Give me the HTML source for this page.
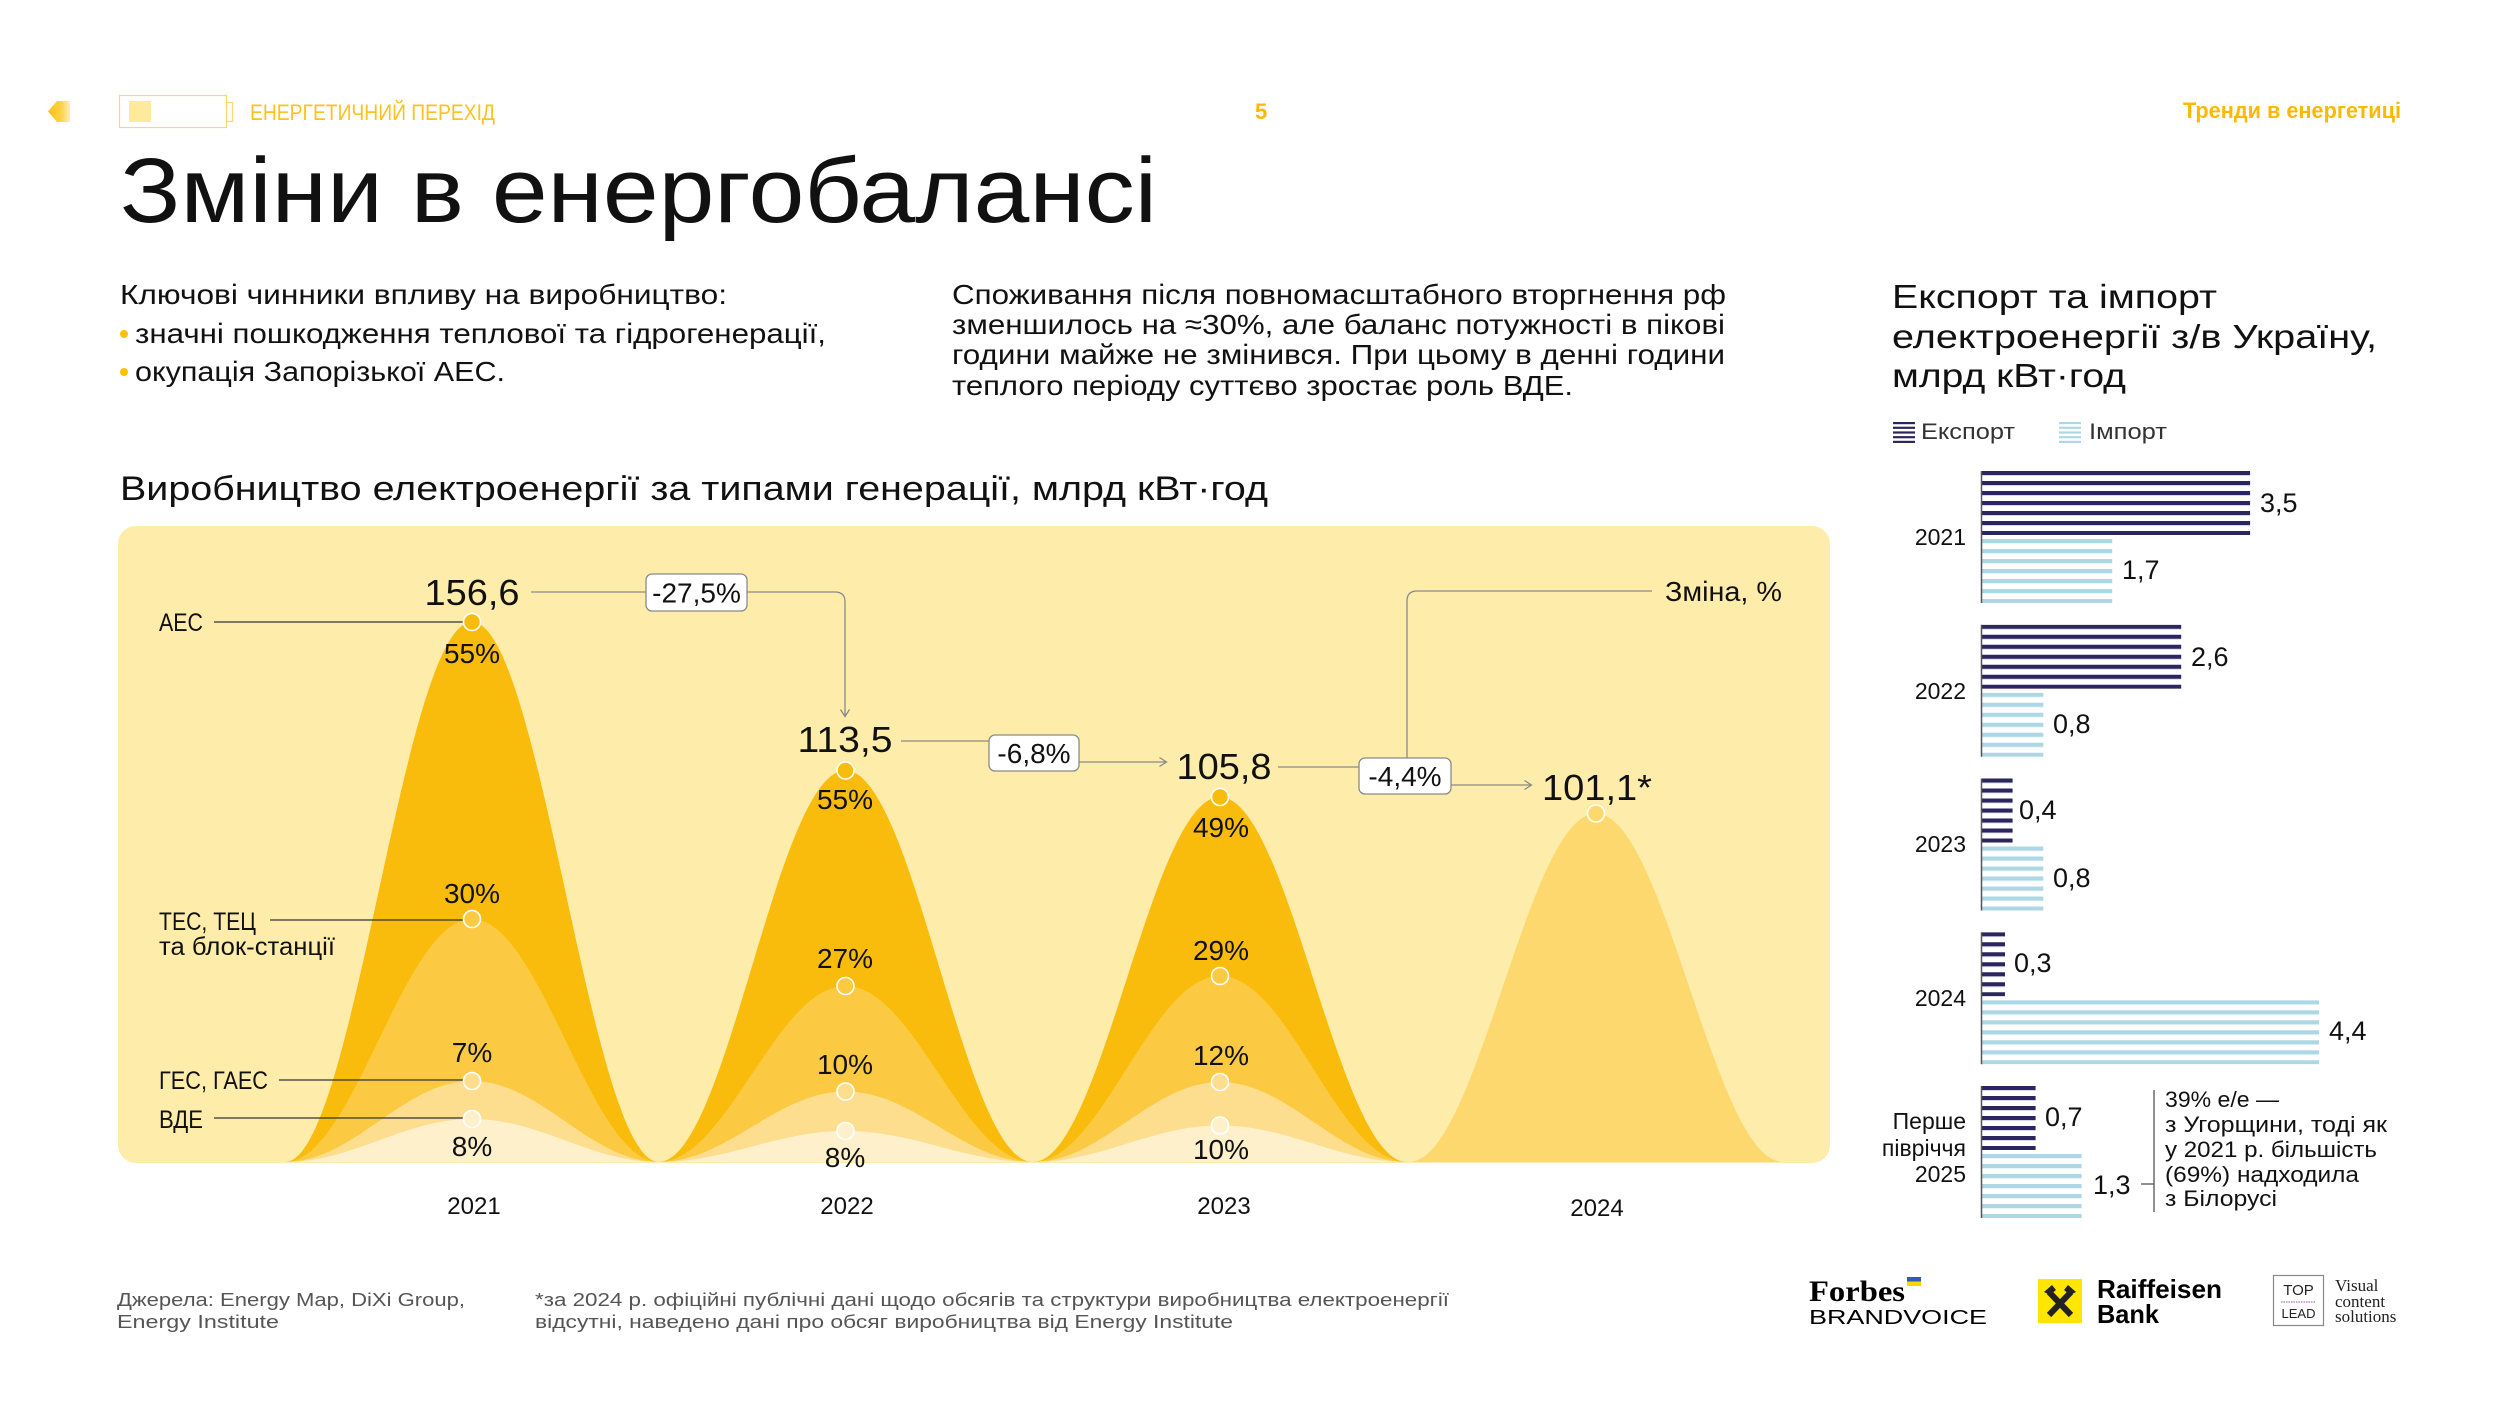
<!DOCTYPE html>
<html><head><meta charset="utf-8"><style>
html,body{margin:0;padding:0;background:#fff;}
svg{display:block;}
text{font-family:"Liberation Sans","DejaVu Sans",sans-serif;fill:#111;}
</style></head><body>
<svg width="2520" height="1418" viewBox="0 0 2520 1418" xmlns="http://www.w3.org/2000/svg">
<defs>
<linearGradient id="ag" x1="0" x2="1" y1="0" y2="0"><stop offset="0" stop-color="#FFC107"/><stop offset="0.6" stop-color="#FFD24D"/><stop offset="1" stop-color="#FFF0B0"/></linearGradient>
<pattern id="pe" width="10" height="10" patternUnits="userSpaceOnUse"><rect width="10" height="4" fill="#2B2660"/><rect y="4" width="10" height="0.8" fill="#CFCDE0"/></pattern>
<pattern id="pi" width="10" height="10" patternUnits="userSpaceOnUse"><rect width="10" height="4" fill="#AED7E6"/><rect y="4" width="10" height="0.8" fill="#E3F1F7"/></pattern>
</defs>

<!-- header -->
<polygon points="48,111.5 57,101 70,101 70,122 57,122" fill="url(#ag)"/>
<rect x="119.5" y="95.5" width="107" height="32" fill="none" stroke="#FDD76A" stroke-width="1.2"/>
<rect x="226.5" y="102.5" width="6" height="19" fill="none" stroke="#FDD76A" stroke-width="1.2"/>
<rect x="129" y="101" width="22" height="21" fill="#FEEA9A"/>
<text x="250" y="120" font-size="22" fill="#FDC21E" style="fill:#FDC21E" textLength="245" lengthAdjust="spacingAndGlyphs">ЕНЕРГЕТИЧНИЙ ПЕРЕХІД</text>
<text x="1255" y="119" font-size="22" font-weight="bold" style="fill:#FFB800">5</text>
<text x="2183" y="118" font-size="22" font-weight="bold" style="fill:#FFB800" textLength="218" lengthAdjust="spacingAndGlyphs">Тренди в енергетиці</text>

<!-- title -->
<text x="120" y="222" font-size="92" textLength="1037" lengthAdjust="spacingAndGlyphs">Зміни в енергобалансі</text>

<!-- intro text -->
<text x="120" y="304" font-size="28" textLength="607" lengthAdjust="spacingAndGlyphs">Ключові чинники впливу на виробництво:</text>
<circle cx="124" cy="334" r="4" fill="#FFC107"/>
<text x="135" y="343" font-size="28" textLength="691" lengthAdjust="spacingAndGlyphs">значні пошкодження теплової та гідрогенерації,</text>
<circle cx="124" cy="372" r="4" fill="#FFC107"/>
<text x="135" y="381" font-size="28" textLength="370" lengthAdjust="spacingAndGlyphs">окупація Запорізької АЕС.</text>

<text x="952" y="304" font-size="28" textLength="774" lengthAdjust="spacingAndGlyphs">Споживання після повномасштабного вторгнення рф</text>
<text x="952" y="334" font-size="28" textLength="773" lengthAdjust="spacingAndGlyphs">зменшилось на ≈30%, але баланс потужності в пікові</text>
<text x="952" y="364" font-size="28" textLength="773" lengthAdjust="spacingAndGlyphs">години майже не змінився. При цьому в денні години</text>
<text x="952" y="395" font-size="28" textLength="621" lengthAdjust="spacingAndGlyphs">теплого періоду суттєво зростає роль ВДЕ.</text>

<text x="120" y="500" font-size="34" textLength="1148" lengthAdjust="spacingAndGlyphs">Виробництво електроенергії за типами генерації, млрд кВт·год</text>

<!-- main chart panel -->
<rect x="118" y="526" width="1712" height="637" rx="18" fill="#FEECAA"/>

<!-- 2021 -->
<path d="M285,1162 C354.2,1162 402.8,622 472,622 C541.2,622 589.8,1162 659,1162 Z" fill="#F9BC0C"/>
<path d="M285,1162 C354.2,1162 402.8,919 472,919 C541.2,919 589.8,1162 659,1162 Z" fill="#FCCA42"/>
<path d="M285,1162 C354.2,1162 402.8,1081 472,1081 C541.2,1081 589.8,1162 659,1162 Z" fill="#FDDE8E"/>
<path d="M285,1162 C354.2,1162 402.8,1119 472,1119 C541.2,1119 589.8,1162 659,1162 Z" fill="#FEF0CB"/>
<!-- 2022 -->
<path d="M658.5,1162 C727.7,1162 776.3,770.5 845.5,770.5 C914.7,770.5 963.3,1162 1032.5,1162 Z" fill="#F9BC0C"/>
<path d="M658.5,1162 C727.7,1162 776.3,986 845.5,986 C914.7,986 963.3,1162 1032.5,1162 Z" fill="#FCCA42"/>
<path d="M658.5,1162 C727.7,1162 776.3,1091.5 845.5,1091.5 C914.7,1091.5 963.3,1162 1032.5,1162 Z" fill="#FDDE8E"/>
<path d="M658.5,1162 C727.7,1162 776.3,1131 845.5,1131 C914.7,1131 963.3,1162 1032.5,1162 Z" fill="#FEF0CB"/>
<!-- 2023 -->
<path d="M1033,1162 C1102.2,1162 1150.8,797 1220,797 C1289.2,797 1337.8,1162 1407,1162 Z" fill="#F9BC0C"/>
<path d="M1033,1162 C1102.2,1162 1150.8,976 1220,976 C1289.2,976 1337.8,1162 1407,1162 Z" fill="#FCCA42"/>
<path d="M1033,1162 C1102.2,1162 1150.8,1082 1220,1082 C1289.2,1082 1337.8,1162 1407,1162 Z" fill="#FDDE8E"/>
<path d="M1033,1162 C1102.2,1162 1150.8,1125.5 1220,1125.5 C1289.2,1125.5 1337.8,1162 1407,1162 Z" fill="#FEF0CB"/>
<!-- 2024 -->
<path d="M1409,1162 C1478.2,1162 1526.8,813.5 1596,813.5 C1665.2,813.5 1713.8,1162 1783,1162 Z" fill="#FCD86F"/>

<!-- left labels & leaders -->
<g stroke="#333" stroke-width="1.3">
<line x1="214" y1="622" x2="463" y2="622"/>
<line x1="270" y1="920" x2="463" y2="920"/>
<line x1="279" y1="1080" x2="463" y2="1080"/>
<line x1="214" y1="1118" x2="463" y2="1118"/>
</g>
<text x="159" y="631" font-size="25" textLength="44" lengthAdjust="spacingAndGlyphs">АЕС</text>
<text x="159" y="930" font-size="25" textLength="97" lengthAdjust="spacingAndGlyphs">ТЕС, ТЕЦ</text>
<text x="159" y="955" font-size="25" textLength="176" lengthAdjust="spacingAndGlyphs">та блок-станції</text>
<text x="159" y="1089" font-size="25" textLength="109" lengthAdjust="spacingAndGlyphs">ГЕС, ГАЕС</text>
<text x="159" y="1128" font-size="25" textLength="44" lengthAdjust="spacingAndGlyphs">ВДЕ</text>

<!-- circles -->
<g stroke="#fff" stroke-width="1.6">
<circle cx="472" cy="622" r="8.5" fill="#F9BC0C"/>
<circle cx="472" cy="919" r="8.5" fill="#FCCA42"/>
<circle cx="472" cy="1081" r="8.5" fill="#FDDE8E"/>
<circle cx="472" cy="1119" r="8.5" fill="#FEF0CB"/>
<circle cx="845.5" cy="770.5" r="8.5" fill="#F9BC0C"/>
<circle cx="845.5" cy="986" r="8.5" fill="#FCCA42"/>
<circle cx="845.5" cy="1091.5" r="8.5" fill="#FDDE8E"/>
<circle cx="845.5" cy="1131" r="8.5" fill="#FEF0CB"/>
<circle cx="1220" cy="797" r="8.5" fill="#F9BC0C"/>
<circle cx="1220" cy="976" r="8.5" fill="#FCCA42"/>
<circle cx="1220" cy="1082" r="8.5" fill="#FDDE8E"/>
<circle cx="1220" cy="1125.5" r="8.5" fill="#FEF0CB"/>
<circle cx="1596" cy="813.5" r="8.5" fill="#FCD86F"/>
</g>

<!-- percent labels -->
<g font-size="28" text-anchor="middle">
<text x="472" y="663">55%</text>
<text x="472" y="903">30%</text>
<text x="472" y="1062">7%</text>
<text x="472" y="1156">8%</text>
<text x="845" y="809">55%</text>
<text x="845" y="968">27%</text>
<text x="845" y="1074">10%</text>
<text x="845" y="1167">8%</text>
<text x="1221" y="837">49%</text>
<text x="1221" y="960">29%</text>
<text x="1221" y="1065">12%</text>
<text x="1221" y="1159">10%</text>
</g>

<!-- totals -->
<g font-size="36" text-anchor="middle">
<text x="472" y="605" textLength="95" lengthAdjust="spacingAndGlyphs">156,6</text>
<text x="845" y="752" textLength="95" lengthAdjust="spacingAndGlyphs">113,5</text>
<text x="1224" y="779" textLength="95" lengthAdjust="spacingAndGlyphs">105,8</text>
<text x="1597" y="800" textLength="110" lengthAdjust="spacingAndGlyphs">101,1*</text>
</g>

<!-- connectors -->
<g stroke="#8a8a8a" stroke-width="1.3" fill="none">
<path d="M531,592 H646"/>
<path d="M747,592 H835 Q845,592 845,602 V716"/>
<path d="M840.5,709.5 L845,716.5 L849.5,709.5"/>
<path d="M901,741 H989"/>
<path d="M1079,762 H1166"/>
<path d="M1159.5,757.5 L1166.5,762 L1159.5,766.5"/>
<path d="M1278,767 H1359"/>
<path d="M1407,758 V601 Q1407,591 1417,591 H1652"/>
<path d="M1451,785 H1531"/>
<path d="M1524.5,780.5 L1531.5,785 L1524.5,789.5"/>
</g>
<g fill="#fff" stroke="#8a8a8a" stroke-width="1.3">
<rect x="646" y="574" width="101" height="37" rx="6"/>
<rect x="989" y="735" width="90" height="36" rx="6"/>
<rect x="1359" y="758" width="92" height="36" rx="6"/>
</g>
<g font-size="28" text-anchor="middle">
<text x="696.5" y="602.5">-27,5%</text>
<text x="1034" y="763">-6,8%</text>
<text x="1405" y="786">-4,4%</text>
</g>
<text x="1665" y="601" font-size="28" textLength="117" lengthAdjust="spacingAndGlyphs">Зміна, %</text>

<!-- years -->
<g font-size="24" text-anchor="middle">
<text x="474" y="1214">2021</text>
<text x="847" y="1214">2022</text>
<text x="1224" y="1214">2023</text>
<text x="1597" y="1216">2024</text>
</g>

<!-- right bar chart -->
<text x="1892" y="308" font-size="33" textLength="325" lengthAdjust="spacingAndGlyphs">Експорт та імпорт</text>
<text x="1892" y="348" font-size="33" textLength="485" lengthAdjust="spacingAndGlyphs">електроенергії з/в Україну,</text>
<text x="1892" y="387" font-size="33" textLength="234" lengthAdjust="spacingAndGlyphs">млрд кВт·год</text>

<g fill="#2B2660">
<rect x="1893" y="422" width="22" height="2.2"/><rect x="1893" y="426.7" width="22" height="2.2"/><rect x="1893" y="431.4" width="22" height="2.2"/><rect x="1893" y="436.1" width="22" height="2.2"/><rect x="1893" y="440.8" width="22" height="2.2"/>
</g>
<g fill="#AED7E6">
<rect x="2059" y="422" width="22" height="2.2"/><rect x="2059" y="426.7" width="22" height="2.2"/><rect x="2059" y="431.4" width="22" height="2.2"/><rect x="2059" y="436.1" width="22" height="2.2"/><rect x="2059" y="440.8" width="22" height="2.2"/>
</g>
<text x="1921" y="439" font-size="22" style="fill:#333" textLength="94" lengthAdjust="spacingAndGlyphs">Експорт</text>
<text x="2089" y="439" font-size="22" style="fill:#333" textLength="78" lengthAdjust="spacingAndGlyphs">Імпорт</text>

<!-- 2021 -->
<g transform="translate(1982,471)">
<rect x="0" y="0" width="268.1" height="64" fill="url(#pe)"/>
<g transform="translate(0,68)"><rect x="0" y="0" width="130.2" height="64" fill="url(#pi)"/></g>
<line x1="-0.5" y1="0" x2="-0.5" y2="132" stroke="#555" stroke-width="1.5"/>
</g>
<!-- 2022 -->
<g transform="translate(1982,624.75)">
<rect x="0" y="0" width="199.2" height="64" fill="url(#pe)"/>
<g transform="translate(0,68)"><rect x="0" y="0" width="61.3" height="64" fill="url(#pi)"/></g>
<line x1="-0.5" y1="0" x2="-0.5" y2="132" stroke="#555" stroke-width="1.5"/>
</g>
<!-- 2023 -->
<g transform="translate(1982,778.5)">
<rect x="0" y="0" width="30.6" height="64" fill="url(#pe)"/>
<g transform="translate(0,68)"><rect x="0" y="0" width="61.3" height="64" fill="url(#pi)"/></g>
<line x1="-0.5" y1="0" x2="-0.5" y2="132" stroke="#555" stroke-width="1.5"/>
</g>
<!-- 2024 -->
<g transform="translate(1982,932.25)">
<rect x="0" y="0" width="23" height="64" fill="url(#pe)"/>
<g transform="translate(0,68)"><rect x="0" y="0" width="337" height="64" fill="url(#pi)"/></g>
<line x1="-0.5" y1="0" x2="-0.5" y2="132" stroke="#555" stroke-width="1.5"/>
</g>
<!-- 2025 -->
<g transform="translate(1982,1086)">
<rect x="0" y="0" width="53.6" height="64" fill="url(#pe)"/>
<g transform="translate(0,68)"><rect x="0" y="0" width="99.6" height="64" fill="url(#pi)"/></g>
<line x1="-0.5" y1="0" x2="-0.5" y2="132" stroke="#555" stroke-width="1.5"/>
</g>

<g font-size="27">
<text x="2260" y="512">3,5</text>
<text x="2122" y="579">1,7</text>
<text x="2191" y="666">2,6</text>
<text x="2053" y="733">0,8</text>
<text x="2019" y="819">0,4</text>
<text x="2053" y="887">0,8</text>
<text x="2014" y="972">0,3</text>
<text x="2329" y="1040">4,4</text>
<text x="2045" y="1126">0,7</text>
<text x="2093" y="1194">1,3</text>
</g>
<g font-size="23" text-anchor="end" style="fill:#222">
<text x="1966" y="545">2021</text>
<text x="1966" y="699">2022</text>
<text x="1966" y="852">2023</text>
<text x="1966" y="1006">2024</text>
<text x="1966" y="1129">Перше</text>
<text x="1966" y="1156">півріччя</text>
<text x="1966" y="1182">2025</text>
</g>

<g stroke="#555" stroke-width="1.3">
<line x1="2154" y1="1090" x2="2154" y2="1212"/>
<line x1="2141" y1="1184" x2="2154" y2="1184"/>
</g>
<g font-size="22">
<text x="2165" y="1107" textLength="114" lengthAdjust="spacingAndGlyphs">39% е/е —</text>
<text x="2165" y="1132" textLength="222" lengthAdjust="spacingAndGlyphs">з Угорщини, тоді як</text>
<text x="2165" y="1157" textLength="212" lengthAdjust="spacingAndGlyphs">у 2021 р. більшість</text>
<text x="2165" y="1182" textLength="194" lengthAdjust="spacingAndGlyphs">(69%) надходила</text>
<text x="2165" y="1206" textLength="112" lengthAdjust="spacingAndGlyphs">з Білорусі</text>
</g>

<!-- footer -->
<g font-size="18" style="fill:#555">
<text x="117" y="1306" style="fill:#555" textLength="348" lengthAdjust="spacingAndGlyphs">Джерела: Energy Map, DiXi Group,</text>
<text x="117" y="1328" style="fill:#555" textLength="162" lengthAdjust="spacingAndGlyphs">Energy Institute</text>
<text x="535" y="1306" style="fill:#555" textLength="914" lengthAdjust="spacingAndGlyphs">*за 2024 р. офіційні публічні дані щодо обсягів та структури виробництва електроенергії</text>
<text x="535" y="1328" style="fill:#555" textLength="698" lengthAdjust="spacingAndGlyphs">відсутні, наведено дані про обсяг виробництва від Energy Institute</text>
</g>

<!-- logos -->
<text x="1809" y="1301" font-size="30" font-weight="bold" style="font-family:'Liberation Serif',serif;fill:#000" textLength="96" lengthAdjust="spacingAndGlyphs">Forbes</text>
<rect x="1907" y="1277" width="14" height="4.5" fill="#2C5EB8"/>
<rect x="1907" y="1281.5" width="14" height="4.5" fill="#FFD500"/>
<text x="1809" y="1324" font-size="20" style="fill:#000" textLength="178" lengthAdjust="spacingAndGlyphs">BRANDVOICE</text>

<rect x="2038" y="1279" width="44" height="44" fill="#FFE600"/>
<g stroke="#222" stroke-width="6" stroke-linecap="butt">
<line x1="2049" y1="1292" x2="2071" y2="1315"/>
<line x1="2071" y1="1292" x2="2049" y2="1315"/>
</g>
<polygon points="2044,1292 2052,1285 2056,1290 2050,1295" fill="#222"/>
<polygon points="2076,1292 2068,1285 2064,1290 2070,1295" fill="#222"/>
<text x="2097" y="1298" font-size="26" font-weight="bold" style="fill:#000" textLength="125" lengthAdjust="spacingAndGlyphs">Raiffeisen</text>
<text x="2097" y="1323" font-size="26" font-weight="bold" style="fill:#000" textLength="62" lengthAdjust="spacingAndGlyphs">Bank</text>

<rect x="2273.5" y="1275.5" width="50" height="50" fill="none" stroke="#888" stroke-width="1.2"/>
<text x="2298.5" y="1295" font-size="15" text-anchor="middle" style="fill:#222">TOP</text>
<line x1="2281" y1="1302" x2="2316" y2="1302" stroke="#B98BC0" stroke-width="1.5" stroke-dasharray="1.5,1"/>
<text x="2298.5" y="1318" font-size="13" text-anchor="middle" style="fill:#222">LEAD</text>
<g font-size="17" style="font-family:'Liberation Serif',serif;fill:#222">
<text x="2335" y="1291" style="font-family:'Liberation Serif',serif;fill:#222">Visual</text>
<text x="2335" y="1307" style="font-family:'Liberation Serif',serif;fill:#222">content</text>
<text x="2335" y="1322" style="font-family:'Liberation Serif',serif;fill:#222">solutions</text>
</g>
</svg>
</body></html>
